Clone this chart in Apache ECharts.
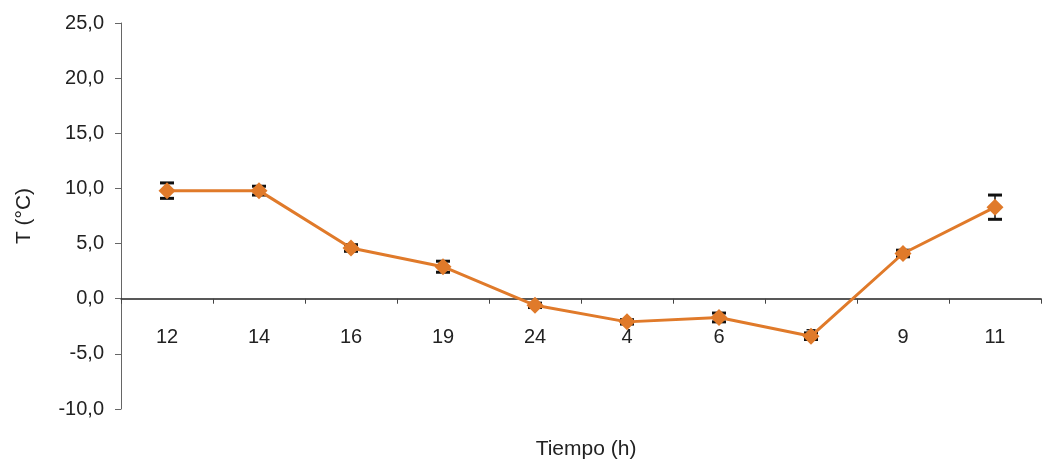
<!DOCTYPE html>
<html>
<head>
<meta charset="utf-8">
<script src="https://cdn.jsdelivr.net/npm/echarts@6/dist/echarts.min.js"></script>
<style>
  html, body { margin: 0; padding: 0; background: #fff; }
  #chart { width: 1042px; height: 459px; }
</style>
</head>
<body>
<div id="chart"></div>
<script>
var hours = ['12', '14', '16', '19', '24', '4', '6', '7', '9', '11']
var temps = [9.8, 9.8, 4.6, 2.9, -0.6, -2.1, -1.7, -3.4, 4.1, 8.3]
var errs = [0.7, 0.4, 0.3, 0.5, 0.2, 0.2, 0.4, 0.3, 0.3, 1.1]
var yTicks = { min: -10, max: 25, step: 5 }

var dom = document.getElementById('chart')
var myChart = echarts.init(dom)

var barData = temps.map(function (t, i) {
    return [i, t - errs[i], t + errs[i]]
})

// pixel distance from the grid bottom (-10) up to the zero line
var zeroOffset = 386 * (0 - yTicks.min) / (yTicks.max - yTicks.min)

var option = {
    animation: false,
    textStyle: { fontFamily: 'Liberation Sans, Arial, sans-serif' },
    title: {
        text: 'Tiempo (h)',
        left: 581,
        top: 434,
        textAlign: 'center',
        textStyle: { fontSize: 21, fontWeight: 'normal', color: '#222' }
    },
    grid: { left: 121, top: 23, width: 920, height: 386 },
    xAxis: [
        {
            type: 'category',
            data: hours,
            axisLine: { onZero: true, lineStyle: { color: '#222', width: 1.5 } },
            axisTick: { show: true, length: 5, lineStyle: { color: '#444' } },
            axisLabel: { show: false },
            splitLine: { show: false }
        },
        {
            // label row that sits just under the zero line
            type: 'category',
            data: hours,
            position: 'bottom',
            offset: -zeroOffset,
            axisLine: { show: false },
            axisTick: { show: false },
            axisLabel: { margin: 29, fontSize: 20, color: '#222' },
            splitLine: { show: false }
        }
    ],
    yAxis: {
        type: 'value',
        min: yTicks.min,
        max: yTicks.max,
        interval: yTicks.step,
        name: 'T (°C)',
        nameLocation: 'middle',
        nameRotate: 90,
        nameGap: 86,
        nameTextStyle: { fontSize: 21, color: '#222' },
        axisLine: { show: true, lineStyle: { color: '#666', width: 1 } },
        axisTick: { show: true, length: 6, lineStyle: { color: '#666' } },
        axisLabel: {
            margin: 17,
            fontSize: 20,
            color: '#222',
            formatter: function (v) { return v.toFixed(1).replace('.', ',') }
        },
        splitLine: { show: false }
    },
    series: [
        {
            type: 'line',
            data: temps,
            symbol: 'diamond',
            symbolSize: 17,
            lineStyle: { color: '#e07a2a', width: 3 },
            itemStyle: { color: '#e07a2a' },
            z: 5
        },
        {
            type: 'custom',
            data: barData,
            encode: { x: 0, y: [1, 2] },
            z: 4,
            renderItem: function (params, api) {
                var lo = api.coord([api.value(0), api.value(1)])
                var hi = api.coord([api.value(0), api.value(2)])
                var w = 7
                var style = { stroke: '#111', lineWidth: 3 }
                return {
                    type: 'group',
                    children: [
                        { type: 'line', shape: { x1: hi[0], y1: hi[1], x2: lo[0], y2: lo[1] }, style: { stroke: '#111', lineWidth: 1.5 } },
                        { type: 'line', shape: { x1: hi[0] - w, y1: hi[1], x2: hi[0] + w, y2: hi[1] }, style: style },
                        { type: 'line', shape: { x1: lo[0] - w, y1: lo[1], x2: lo[0] + w, y2: lo[1] }, style: style }
                    ]
                }
            }
        }
    ]
}

myChart.setOption(option, true)
</script>
</body>
</html>
